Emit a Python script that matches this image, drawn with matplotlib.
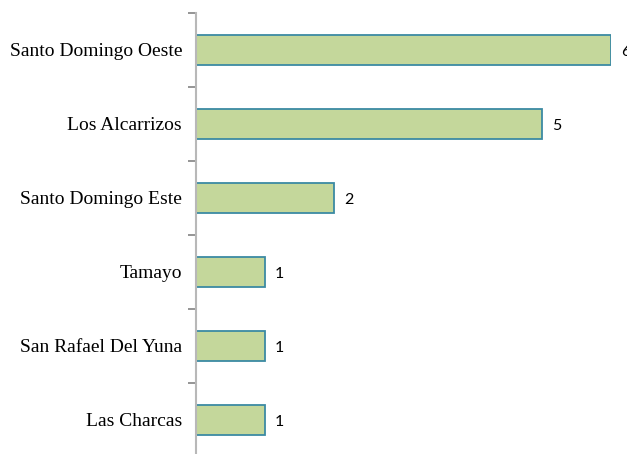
import matplotlib
matplotlib.use("Agg")
import matplotlib.pyplot as plt
import numpy as np

categories = ["Santo Domingo Oeste", "Los Alcarrizos", "Santo Domingo Este",
              "Tamayo", "San Rafael Del Yuna", "Las Charcas"]
values = [6, 5, 2, 1, 1, 1]

fig = plt.figure(figsize=(6.27, 4.54), dpi=100)
ax = fig.add_axes([196/627, -3/454, 415/627, 444/454])

y = np.arange(len(categories))
ax.barh(y, values, height=0.41, color="#c4d79b", edgecolor="#3b8aa3", linewidth=1.3)
ax.set_ylim(len(categories) - 0.5, -0.5)
ax.set_xlim(0, 6)

for yi, v in zip(y, values):
    ax.text(v + 10/69.2, yi + 0.03, str(v), va="center", ha="left", fontsize=11.5,
            family="Lato", color="#000000", clip_on=False)

ax.set_yticks(y)
ax.set_yticklabels(categories, family="Liberation Serif", fontsize=14)
ax.tick_params(axis="y", which="major", length=0, pad=10)
ax.set_yticks(np.arange(-0.5, len(categories), 1.0), minor=True)
ax.tick_params(axis="y", which="minor", length=6, width=1.3, color="#8c8c8c", direction="out")

for s in ["top", "right", "bottom"]:
    ax.spines[s].set_visible(False)
ax.spines["left"].set_color("#b8b8b8")
ax.spines["left"].set_linewidth(1.5)
ax.set_xticks([])

fig.savefig("out.png", dpi=100)
